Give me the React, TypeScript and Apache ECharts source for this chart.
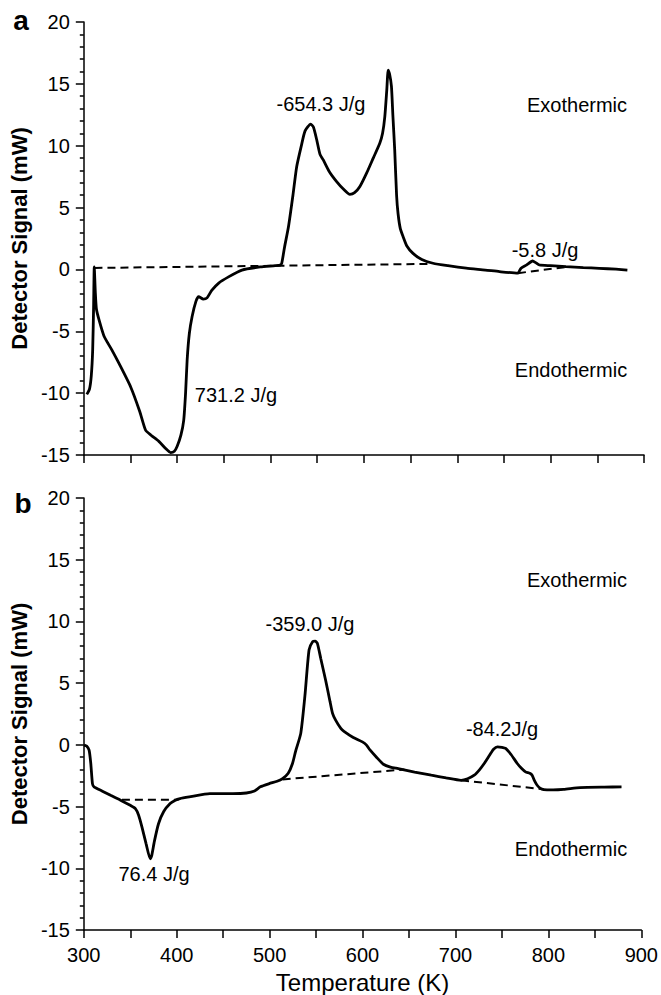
import React, { useEffect, useRef } from "react";
import * as echarts from "echarts";

// ---------- Data (panel a) ----------
const tempA = [
  303.2, 306, 308, 309.5, 310.5, 311.2, 312.3, 313.5, 316.4, 321.7, 330, 337.7, 350.2, 360, 366.2, 372,
  380.4, 388, 392.9, 397, 400, 404, 407, 409, 410.7, 413, 416, 420, 423, 428, 432, 437, 444.5, 455,
  469.4, 489, 505, 510.3, 512, 515, 519.2, 524, 528, 533, 537, 543, 546, 549.4, 553, 556.5, 563,
  570.8, 578, 585, 590, 595.7, 603, 610, 617, 620, 622.4, 624.5, 626, 627.5, 629.5, 631, 633, 635,
  636.6, 639, 642, 646, 652.6, 662, 674, 690, 709.6, 730, 745.2, 764.8, 768.3, 774, 780.7, 784,
  787.9, 800, 816.4, 835, 852, 870, 882.2,
];
const signalA = [
  -10.1, -9.7, -8.6, -6.5, -3, 0.2, -1.8, -3.2, -4.1, -5.4, -6.5, -7.6, -9.5, -11.5, -13.0, -13.4,
  -13.9, -14.5, -14.8, -14.7, -14.3, -13.4, -12.2, -10, -7.3, -5.2, -3.8, -2.6, -2.2, -2.4, -2.3, -1.7, -1.1, -0.6,
  -0.05, 0.2, 0.3, 0.35, 0.5, 1.8, 3.45, 6, 8.3, 10, 11.2, 11.75, 11.5, 10.5, 9.3, 8.85, 7.9,
  7.1, 6.5, 6.07, 6.2, 6.7, 7.8, 9, 10.2, 11, 12.35, 14.5, 16.1, 15.8, 14.8, 12.5, 9.65, 6,
  4.5, 3.3, 2.65, 1.9, 1.3, 0.8, 0.5, 0.3, 0.1, -0.05, -0.18, -0.3, 0.1, 0.35, 0.68, 0.55,
  0.36, 0.3, 0.22, 0.15, 0.09, 0.02, -0.05,
];
const baseA1Temp = [311.4, 672];
const baseA1Signal = [0.12, 0.45];
const baseA2Temp = [765, 817];
const baseA2Signal = [-0.3, 0.2];

// ---------- Data (panel b) ----------
const tempB = [
  300.3, 303, 305.7, 307.5, 309.3, 311, 320, 328.8, 340, 350, 355.5, 359, 362.6, 367, 371.5, 373,
  376, 380.4, 386, 392.9, 398, 403.6, 415, 435.6, 460.5, 475, 483.7, 490, 499.6, 508, 513.9, 520,
  524.6, 528, 533.5, 538, 542.4, 546.4, 549, 551.3, 555, 560.2, 565, 567.7, 571, 576.6, 580, 590,
  599.8, 604, 608.2, 615, 622.4, 630, 638.4, 656, 674, 690, 706, 713, 720.2, 726, 730.9, 737, 741,
  745.2, 750, 754, 760, 766.5, 771, 775.4, 780, 782.5, 785, 787.9, 791, 795, 805, 816.4, 834.1, 860, 878.7,
];
const signalB = [
  -0.02, -0.1, -0.43, -1.5, -3.14, -3.41, -3.75, -4.09, -4.5, -4.9, -5.17, -5.7, -6.66, -8, -9.23, -9.0,
  -7.8, -6.39, -5.4, -4.76, -4.5, -4.35, -4.2, -3.95, -3.95, -3.9, -3.74, -3.4, -3.14, -2.95, -2.73, -2.3,
  -1.51, -0.5, 0.93, 4, 7.69, 8.37, 8.4, 8.24, 7, 5.26, 3.5, 2.55, 2.0, 1.33, 1.1, 0.6,
  0.24, 0, -0.43, -1, -1.57, -1.8, -1.92, -2.2, -2.46, -2.68, -2.87, -2.75, -2.46, -2.0, -1.51, -0.8, -0.35,
  -0.16, -0.2, -0.29, -0.8, -1.51, -1.9, -2.19, -2.3, -2.46, -2.9, -3.27, -3.5, -3.62, -3.64, -3.6, -3.46, -3.42, -3.41,
];
const baseB1Temp = [341, 402];
const baseB1Signal = [-4.44, -4.44];
const baseB2Temp = [514, 645];
const baseB2Signal = [-2.8, -2.0];
const baseB3Temp = [706, 795];
const baseB3Signal = [-2.87, -3.6];

// ---------- Axis ticks ----------
const xMin = 300;
const xMax = 900;
const xStep = 100;
const yMin = -15;
const yMax = 20;
const yStep = 5;

// ---------- Texts ----------
const annotationsA = ["-654.3 J/g", "Exothermic", "-5.8 J/g", "Endothermic", "731.2 J/g"];
const annotationsB = ["-359.0 J/g", "Exothermic", "-84.2J/g", "Endothermic", "76.4 J/g"];
const panelLetters = ["a", "b"];
const yTitle = "Detector Signal (mW)";
const xTitle = "Temperature (K)";

const FONT = "'Liberation Sans', Arial, Helvetica, sans-serif";

const zip = (xs: number[], ys: number[]) => xs.map((x, i) => [x, ys[i]]);

export default function App() {
  const ref = useRef<HTMLDivElement>(null);

  useEffect(() => {
    document.body.style.margin = "0";
    if (!ref.current) return;
    const chart = echarts.init(ref.current, undefined, { renderer: "svg" });

    const axisLineStyle = { color: "#000", width: 1.5 };

    const makeX = (gridIndex: number, showLabels: boolean) => ({
      type: "value",
      gridIndex,
      min: xMin,
      max: xMax,
      interval: xStep,
      axisLine: { show: true, onZero: false, lineStyle: axisLineStyle },
      axisTick: { show: true, length: 8, inside: false, lineStyle: axisLineStyle },
      minorTick: { show: true, splitNumber: 2, length: 8, lineStyle: axisLineStyle },
      splitLine: { show: false },
      minorSplitLine: { show: false },
      axisLabel: {
        show: showLabels,
        color: "#000",
        fontSize: 20,
        fontFamily: FONT,
        margin: 15,
      },
      name: showLabels ? xTitle : "",
      nameLocation: "middle",
      nameGap: 40,
      nameTextStyle: { color: "#000", fontSize: 24, fontFamily: FONT },
    });

    const makeY = (gridIndex: number) => ({
      type: "value",
      gridIndex,
      min: yMin,
      max: yMax,
      interval: yStep,
      axisLine: { show: true, onZero: false, lineStyle: axisLineStyle },
      axisTick: { show: true, length: 8, inside: false, lineStyle: axisLineStyle },
      minorTick: { show: true, splitNumber: 5, length: 4, lineStyle: axisLineStyle },
      splitLine: { show: false },
      minorSplitLine: { show: false },
      axisLabel: { color: "#000", fontSize: 20, fontFamily: FONT, margin: 14 },
      name: yTitle,
      nameLocation: "middle",
      nameGap: 50,
      nameTextStyle: { color: "#000", fontSize: 22, fontWeight: "bold", fontFamily: FONT },
    });

    const curve = (idx: number, data: number[][]) => ({
      type: "line",
      xAxisIndex: idx,
      yAxisIndex: idx,
      data,
      symbol: "none",
      smooth: 0.2,
      silent: true,
      z: 3,
      lineStyle: { color: "#000", width: 2.8 },
    });
    const dashed = (idx: number, data: number[][]) => ({
      type: "line",
      xAxisIndex: idx,
      yAxisIndex: idx,
      data,
      symbol: "none",
      silent: true,
      z: 2,
      lineStyle: { color: "#000", width: 2, type: [8, 5] },
    });

    const text = (t: string, x: number, y: number, size = 20, bold = false) => ({
      type: "text",
      x,
      y,
      silent: true,
      style: {
        text: t,
        fill: "#000",
        fontSize: size,
        fontWeight: bold ? "bold" : "normal",
        fontFamily: FONT,
        align: "center",
        verticalAlign: "middle",
        textAlign: "center",
        textVerticalAlign: "middle",
      },
    });

    const posA = [
      [321, 104],
      [577, 105],
      [545, 250],
      [571, 370],
      [236, 395],
    ];
    const posB = [
      [310, 624],
      [577, 580],
      [502, 729],
      [571, 849],
      [154, 874],
    ];

    const graphics = [
      ...annotationsA.map((t, i) => text(t, posA[i][0], posA[i][1])),
      ...annotationsB.map((t, i) => text(t, posB[i][0], posB[i][1])),
      text(panelLetters[0], 21, 20, 28, true),
      text(panelLetters[1], 23, 503, 28, true),
    ];

    chart.setOption({
      animation: false,
      backgroundColor: "#fff",
      grid: [
        { left: 82, top: 22, width: 562, height: 433 },
        { left: 82, top: 498, width: 562, height: 432 },
      ],
      xAxis: [makeX(0, false), makeX(1, true)],
      yAxis: [makeY(0), makeY(1)],
      series: [
        dashed(0, zip(baseA1Temp, baseA1Signal)),
        dashed(0, zip(baseA2Temp, baseA2Signal)),
        curve(0, zip(tempA, signalA)),
        dashed(1, zip(baseB1Temp, baseB1Signal)),
        dashed(1, zip(baseB2Temp, baseB2Signal)),
        dashed(1, zip(baseB3Temp, baseB3Signal)),
        curve(1, zip(tempB, signalB)),
      ],
      graphic: graphics,
    });

    return () => chart.dispose();
  }, []);

  return (
    <div
      ref={ref}
      style={{ position: "absolute", left: 0, top: 0, width: 661, height: 995, background: "#fff" }}
    />
  );
}
